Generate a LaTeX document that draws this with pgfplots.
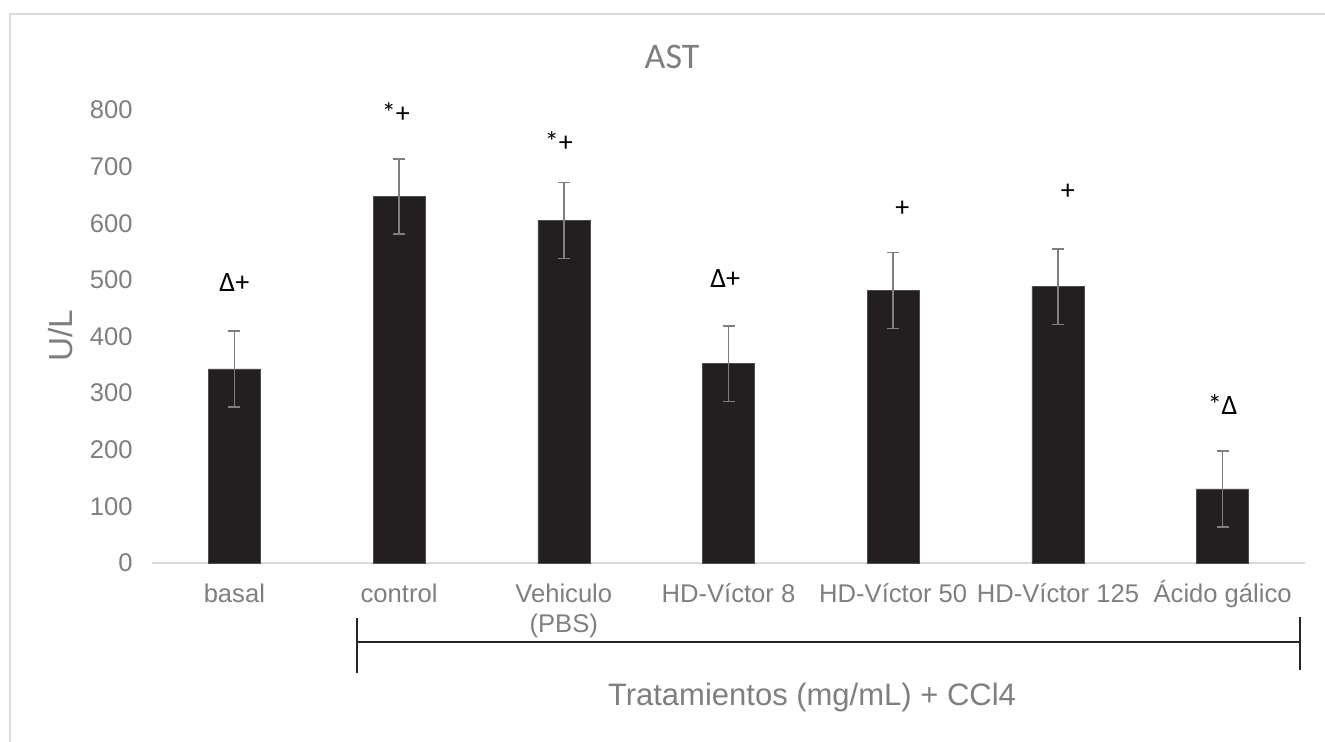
\documentclass[border=0pt]{standalone}
\usepackage{pgfplots}
\pgfplotsset{compat=1.18}
\usepackage{pgfplotstable}
\usepackage{fontspec}
\setmainfont{Liberation Sans}
\newfontfamily\calib{Carlito}
\definecolor{barc}{RGB}{35,31,32}
\definecolor{txtc}{RGB}{127,127,127}
\definecolor{errc}{RGB}{127,127,127}
\definecolor{linec}{RGB}{217,217,217}
\tikzset{ann/.style={font=\calib\fontsize{21}{24}\selectfont, text=black}}

\pgfplotstableread{
x   y    err
0   343  67
1   647  66
2   605  67
3   352  67
4   481  67
5   488  67
6   131  67
}\datatable

\begin{document}
\begin{tikzpicture}
\path[use as bounding box] (-114pt,-134.25pt) rectangle (879.75pt,422.25pt);
\draw[linec, line width=1.1pt] (-106.5pt,-140pt) -- (-106.5pt,411.75pt) -- (890pt,411.75pt);
\begin{axis}[
  at={(0,0)}, anchor=south west,
  scale only axis, width=864.75pt, height=339.75pt,
  xmin=-0.5, xmax=6.5, ymin=0, ymax=800,
  clip=false,
  axis x line=bottom, axis y line=left,
  x axis line style={-, draw=linec, line width=1.5pt},
  y axis line style={draw=none},
  major tick length=0pt,
  ytick={0,100,...,800},
  xtick={0,...,6},
  xticklabels={basal, control, {Vehiculo\\(PBS)}, HD-Víctor 8, HD-Víctor 50, HD-Víctor 125, {\smash{Á}cido gálico}},
  ticklabel style={font=\fontsize{19.2}{22.5}\selectfont, text=txtc},
  xticklabel style={align=center, yshift=-12pt},
  yticklabel style={xshift=-11pt},
  /pgf/number format/assume math mode=true,
  ybar, bar width=39pt,
]
\addplot[fill=barc, draw=barc!80!white,
  error bars/.cd, y dir=both, y explicit,
  error bar style={color=errc, line width=1.2pt},
  error mark options={color=errc, line width=1.2pt, mark size=4.5pt, rotate=90}]
  table[x=x, y=y, y error=err] {\datatable};

\node[ann] at (axis cs:0,496) {Δ+};
\node[ann] at (axis cs:0.98,795) {*+};
\node[ann] at (axis cs:1.97,744) {*+};
\node[ann] at (axis cs:2.98,503) {Δ+};
\node[ann] at (axis cs:4.055,625) {+};
\node[ann] at (axis cs:5.06,656) {+};
\node[ann] at (axis cs:6.0,279) {*Δ};
\end{axis}
\node[text=txtc, font=\calib\fontsize{27}{32}\selectfont] at (390pt,379.5pt) {AST};
\node[rotate=90, text=txtc, font=\fontsize{25}{30}\selectfont] at (-68.25pt,170.25pt) {U/L};
\node[text=txtc, font=\fontsize{23.25}{28}\selectfont] at (495pt,-100.5pt) {Tratamientos (mg/mL) + CCl4};
\draw[black!85, line width=1.3pt] (153.75pt,-59.25pt) -- (861pt,-59.25pt);
\draw[black!85, line width=1.1pt] (153.75pt,-41.25pt) -- (153.75pt,-82.5pt);
\draw[black!85, line width=1.1pt] (861pt,-40.5pt) -- (861pt,-80.25pt);
\end{tikzpicture}
\end{document}
